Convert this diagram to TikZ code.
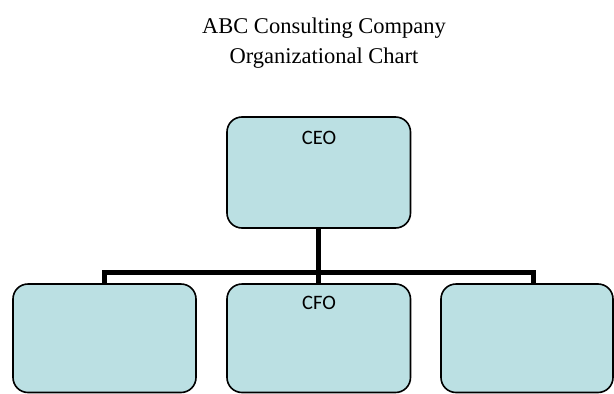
\documentclass[tikz,border=0pt]{standalone}
\usepackage{fontspec}
\setmainfont{Liberation Serif}
\newfontfamily\boxfont{Carlito}
\definecolor{boxfill}{RGB}{187,224,227}
\begin{document}
\begin{tikzpicture}[x=1pt,y=-1pt,
  orgbox/.style={draw=black, line width=1.6pt, fill=boxfill, rounded corners=15pt},
  boxlabel/.style={font=\boxfont\fontsize{20.5}{24}\selectfont, anchor=base, inner sep=0pt},
  link/.style={line width=5pt, draw=black}]
\useasboundingbox (0,0) rectangle (614,394);
\node[font=\fontsize{22.5}{30}\selectfont, align=center, anchor=base, inner sep=0pt] (title) at (324,63)
  {ABC Consulting Company\\Organizational Chart};
% connectors
\coordinate (ceob) at (318.5,228);
\coordinate (hl) at (104,272);
\coordinate (hr) at (533,272);
\coordinate (hm) at (318.5,272);
\draw[link] (ceob) -- (318.5,284);
\draw[link] (104,284) -- (hl) -- (hr) -- (533,284);
% boxes
\draw[orgbox] (227,117) rectangle (410.5,228);
\draw[orgbox] (13,284) rectangle (196,392.5);
\draw[orgbox] (227,284) rectangle (410.5,392.5);
\draw[orgbox] (441,284) rectangle (613,392.5);
\node[boxlabel] (ceo) at (319,144) {CEO};
\node[boxlabel] (cfo) at (319,309) {CFO};
\end{tikzpicture}
\end{document}
